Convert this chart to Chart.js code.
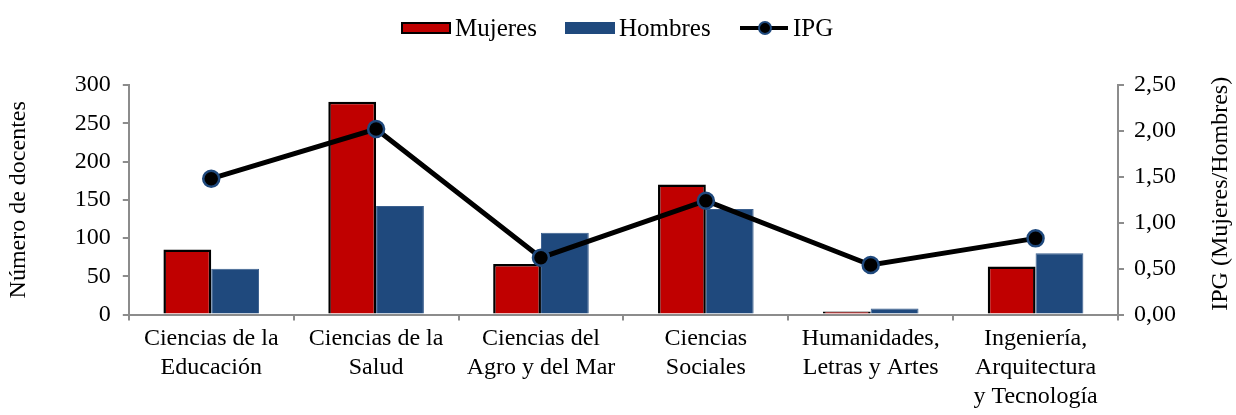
<!DOCTYPE html>
<html>
<head>
<meta charset="utf-8">
<script src="https://cdn.jsdelivr.net/npm/chart.js@4/dist/chart.umd.min.js"></script>
<style>
  html, body { margin: 0; padding: 0; background: #fff; }
  #wrap { width: 1236px; height: 415px; }
</style>
</head>
<body>
<div id="wrap"><canvas id="chart"></canvas></div>
<script>
// Docentes por área de conocimiento y sexo, con índice de paridad de género

const areas = [
  ["Ciencias de la", "Educación"],
  ["Ciencias de la", "Salud"],
  ["Ciencias del", "Agro y del Mar"],
  ["Ciencias", "Sociales"],
  ["Humanidades,", "Letras y Artes"],
  ["Ingeniería,", "Arquitectura", "y Tecnología"],
];
const mujeres = [85, 278, 66, 170, 4, 63];
const hombres = [60, 142, 107, 138, 8, 80];
const ipg = [1.48, 2.02, 0.62, 1.24, 0.54, 0.83];

const RED = "#C00000";
const BLUE = "#1F497D";
const AXIS = "#8C8C8C";
const FONT = "'Liberation Serif', serif";
const fontSize = 24;

Chart.defaults.font.family = FONT;
Chart.defaults.font.size = fontSize;
Chart.defaults.color = "#000";

// spacing the serif glyphs a little wider
const letterSpacing = {
  id: "letterSpacing",
  beforeInit(chart) {
    chart.ctx.letterSpacing = "1.5px";
  },
};

// legend row drawn by hand: bar boxes and a line with its marker
const customLegend = {
  id: "customLegend",
  afterDraw(chart) {
    const ctx = chart.ctx;
    const items = [
      { text: "Mujeres", x: 402, kind: "bar", fill: RED, stroke: "#000" },
      { text: "Hombres", x: 566, kind: "bar", fill: BLUE, stroke: BLUE },
      { text: "IPG", x: 740, kind: "line" },
    ];
    const y = 28;
    ctx.save();
    ctx.font = "25px " + FONT;
    ctx.textBaseline = "middle";
    ctx.textAlign = "left";
    items.forEach((it) => {
      if (it.kind === "bar") {
        ctx.fillStyle = it.fill;
        ctx.fillRect(it.x, y - 5, 48, 10);
        ctx.lineWidth = 2;
        ctx.strokeStyle = it.stroke;
        ctx.strokeRect(it.x, y - 5, 48, 10);
      } else {
        ctx.strokeStyle = "#000";
        ctx.lineWidth = 4;
        ctx.beginPath();
        ctx.moveTo(it.x, y);
        ctx.lineTo(it.x + 48, y);
        ctx.stroke();
        ctx.beginPath();
        ctx.arc(it.x + 25, y, 6, 0, Math.PI * 2);
        ctx.fillStyle = "#000";
        ctx.fill();
        ctx.lineWidth = 2;
        ctx.strokeStyle = BLUE;
        ctx.stroke();
      }
      ctx.fillStyle = "#000";
      ctx.fillText(it.text, it.x + 53, y + 1);
    });
    ctx.restore();
  },
};

// right axis title reads bottom-to-top like the left one
const rightTitle = {
  id: "rightTitle",
  afterDraw(chart) {
    const ctx = chart.ctx;
    const area = chart.chartArea;
    ctx.save();
    ctx.translate(1221, (area.top + area.bottom) / 2 - 6);
    ctx.rotate(-Math.PI / 2);
    ctx.font = fontSize + "px " + FONT;
    ctx.fillStyle = "#000";
    ctx.textAlign = "center";
    ctx.textBaseline = "middle";
    ctx.fillText("IPG (Mujeres/Hombres)", 0, 0);
    ctx.restore();
  },
};

new Chart(document.getElementById("chart"), {
  type: "bar",
  data: {
    labels: areas,
    datasets: [
      {
        label: "Mujeres",
        data: mujeres,
        yAxisID: "y",
        backgroundColor: RED,
        borderColor: "#000",
        borderWidth: 2.5,
        categoryPercentage: 0.58,
        barPercentage: 1,
        order: 1,
      },
      {
        label: "Hombres",
        data: hombres,
        yAxisID: "y",
        backgroundColor: BLUE,
        borderColor: "#3A5F8E",
        borderWidth: 1,
        categoryPercentage: 0.58,
        barPercentage: 1,
        order: 2,
      },
      {
        type: "line",
        label: "IPG",
        data: ipg,
        yAxisID: "y2",
        borderColor: "#000",
        borderWidth: 5,
        pointRadius: 8,
        pointBackgroundColor: "#000",
        pointBorderColor: BLUE,
        pointBorderWidth: 2.5,
        tension: 0,
        order: 0,
      },
    ],
  },
  options: {
    responsive: true,
    maintainAspectRatio: false,
    animation: false,
    layout: { padding: { top: 85, right: 50, left: 4, bottom: 0 } },
    plugins: {
      legend: { display: false },
      tooltip: { enabled: false },
    },
    scales: {
      x: {
        offset: true,
        grid: {
          offset: true,
          drawOnChartArea: false,
          color: AXIS,
          lineWidth: 2,
          tickLength: 6,
        },
        border: { color: AXIS, width: 2 },
        ticks: { maxRotation: 0, autoSkip: false, padding: 4, font: { lineHeight: 1.2 } },
      },
      y: {
        position: "left",
        min: 0,
        max: 300,
        ticks: { stepSize: 50, padding: 12 },
        grid: { drawOnChartArea: false, color: AXIS, lineWidth: 2, tickLength: 6 },
        border: { color: AXIS, width: 2 },
        title: { display: true, text: "Número de docentes", padding: { top: 0, bottom: 30 } },
      },
      y2: {
        position: "right",
        min: 0,
        max: 2.5,
        ticks: {
          stepSize: 0.5,
          padding: 10,
          callback: (v) => v.toFixed(2).replace(".", ","),
        },
        grid: { drawOnChartArea: false, color: AXIS, lineWidth: 2, tickLength: 6 },
        border: { color: AXIS, width: 2 },
      },
    },
  },
  plugins: [letterSpacing, customLegend, rightTitle],
});
</script>
</body>
</html>
